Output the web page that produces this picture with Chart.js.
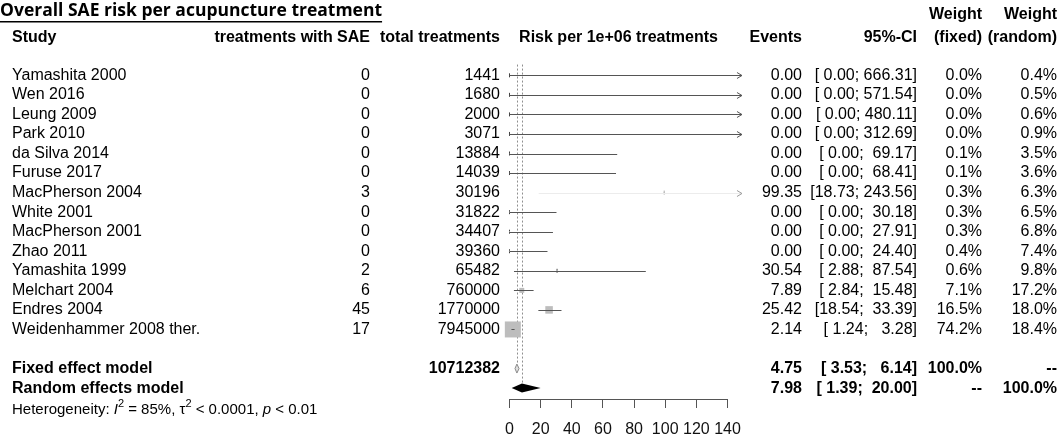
<!DOCTYPE html>
<html>
<head>
<meta charset="utf-8">
<script src="https://cdn.jsdelivr.net/npm/chart.js@4"></script>
<style>
  html, body { margin: 0; padding: 0; background: #fff; }
  #wrap { width: 1060px; height: 436px; position: relative; }
</style>
</head>
<body>
<div id="wrap"><canvas id="forest"></canvas></div>
<script>
// study data
const studies = [
  'Yamashita 2000', 'Wen 2016', 'Leung 2009', 'Park 2010', 'da Silva 2014',
  'Furuse 2017', 'MacPherson 2004', 'White 2001', 'MacPherson 2001', 'Zhao 2011',
  'Yamashita 1999', 'Melchart 2004', 'Endres 2004', 'Weidenhammer 2008 ther.'
];
const saeEvents = [0, 0, 0, 0, 0, 0, 3, 0, 0, 0, 2, 6, 45, 17];
const totalTreatments = [1441, 1680, 2000, 3071, 13884, 14039, 30196, 31822, 34407, 39360, 65482, 760000, 1770000, 7945000];
const risk = [0, 0, 0, 0, 0, 0, 99.35, 0, 0, 0, 30.54, 7.89, 25.42, 2.14];
const ciLower = [0, 0, 0, 0, 0, 0, 18.73, 0, 0, 0, 2.88, 2.84, 18.54, 1.24];
const ciUpper = [666.31, 571.54, 480.11, 312.69, 69.17, 68.41, 243.56, 30.18, 27.91, 24.40, 87.54, 15.48, 33.39, 3.28];
const weightFixed = [0.0, 0.0, 0.0, 0.0, 0.1, 0.1, 0.3, 0.3, 0.3, 0.4, 0.6, 7.1, 16.5, 74.2];
const weightRandom = [0.4, 0.5, 0.6, 0.9, 3.5, 3.6, 6.3, 6.5, 6.8, 7.4, 9.8, 17.2, 18.0, 18.4];

// pooled estimates
const modelLabels = ['Fixed effect model', 'Random effects model'];
const modelTotal = ['10712382', ''];
const modelRisk = [4.75, 7.98];
const modelLower = [3.53, 1.39];
const modelUpper = [6.14, 20.00];
const modelWeightFixed = ['100.0%', '--'];
const modelWeightRandom = ['--', '100.0%'];

const xTicks = [0, 20, 40, 60, 80, 100, 120, 140];

const FONT = '"Liberation Sans", Arial, sans-serif';
const X_LIMIT = 149.3;     // where clipped CIs end with an arrow
const MAX_SIDE = 16;       // square side for the largest weight
const maxWeight = Math.max(...weightFixed);
const modelRow = i => studies.length + 1 + i;

const fmtCI = (lo, hi) => '[' + lo.toFixed(2).padStart(5) + '; ' + hi.toFixed(2).padStart(6) + ']';

const forestPlugin = {
  id: 'forest',
  beforeDatasetsDraw(chart) {
    const { ctx, scales: { x, y } } = chart;
    ctx.save();
    ctx.strokeStyle = '#8f8f8f';
    ctx.lineWidth = 1;
    ctx.setLineDash([2, 2]);
    modelRisk.forEach((v, i) => {
      const px = Math.round(x.getPixelForValue(v)) + 0.5;
      ctx.beginPath();
      ctx.moveTo(px, y.getPixelForValue(-0.55));
      ctx.lineTo(px, y.getPixelForValue(modelRow(i)) - 5);
      ctx.stroke();
    });
    ctx.restore();
  },
  afterDatasetsDraw(chart) {
    const { ctx, scales: { x, y } } = chart;
    ctx.save();
    ctx.lineWidth = 1;
    studies.forEach((s, i) => {
      const py = Math.round(y.getPixelForValue(i)) + 0.5;
      const faint = s === 'MacPherson 2004';
      const x0 = x.getPixelForValue(ciLower[i]);
      const clipped = ciUpper[i] > X_LIMIT;
      const x1 = x.getPixelForValue(clipped ? X_LIMIT : ciUpper[i]);
      ctx.strokeStyle = faint ? '#ececec' : '#555';
      ctx.beginPath();
      ctx.moveTo(x0, py);
      ctx.lineTo(x1, py);
      ctx.stroke();
      if (clipped) {
        ctx.strokeStyle = faint ? '#999' : '#555';
        ctx.beginPath();
        ctx.moveTo(x1 - 5, py - 3);
        ctx.lineTo(x1, py);
        ctx.lineTo(x1 - 5, py + 3);
        ctx.stroke();
      }
    });
    // diamonds
    modelRisk.forEach((v, i) => {
      const py = y.getPixelForValue(modelRow(i));
      ctx.beginPath();
      ctx.moveTo(x.getPixelForValue(modelLower[i]), py);
      ctx.lineTo(x.getPixelForValue(v), py - 4.5);
      ctx.lineTo(x.getPixelForValue(modelUpper[i]), py);
      ctx.lineTo(x.getPixelForValue(v), py + 4.5);
      ctx.closePath();
      if (i === 0) {
        ctx.fillStyle = '#e0e0e0';
        ctx.strokeStyle = '#8a8a8a';
        ctx.fill();
        ctx.stroke();
      } else {
        ctx.fillStyle = '#000';
        ctx.fill();
      }
    });
    ctx.restore();
  },
  afterDraw(chart) {
    const { ctx, scales: { x, y } } = chart;
    const rowY = r => y.getPixelForValue(r);
    ctx.save();
    ctx.fillStyle = '#000';
    ctx.textBaseline = 'middle';

    // title
    ctx.font = 'bold 17.5px "Open Sans", sans-serif';
    ctx.textAlign = 'left';
    const title = 'Overall SAE risk per acupuncture treatment';
    ctx.fillText(title, 0, 11);
    const tw = ctx.measureText(title).width;
    ctx.fillRect(0, 21, tw, 1.5);

    const text = (t, px, py, align) => { ctx.textAlign = align; ctx.fillText(t, px, py); };

    // headers
    ctx.font = 'bold 16px ' + FONT;
    const hy = 38;
    text('Study', 12, hy, 'left');
    text('treatments with SAE', 370, hy, 'right');
    text('total treatments', 500, hy, 'right');
    text('Risk per 1e+06 treatments', (x.left + x.right) / 2, hy, 'center');
    text('Events', 802, hy, 'right');
    text('95%-CI', 917, hy, 'right');
    text('Weight', 982, 15, 'right');
    text('(fixed)', 982, hy, 'right');
    text('Weight', 1057, 15, 'right');
    text('(random)', 1057, hy, 'right');

    // study rows
    ctx.font = '16px ' + FONT;
    studies.forEach((s, i) => {
      const py = rowY(i);
      text(s, 12, py, 'left');
      text(String(saeEvents[i]), 370, py, 'right');
      text(String(totalTreatments[i]), 500, py, 'right');
      text(risk[i].toFixed(2), 802, py, 'right');
      text(fmtCI(ciLower[i], ciUpper[i]), 917, py, 'right');
      text(weightFixed[i].toFixed(1) + '%', 982, py, 'right');
      text(weightRandom[i].toFixed(1) + '%', 1057, py, 'right');
    });

    // pooled rows
    ctx.font = 'bold 16px ' + FONT;
    modelLabels.forEach((m, i) => {
      const py = rowY(modelRow(i));
      text(m, 12, py, 'left');
      text(modelTotal[i], 500, py, 'right');
      text(modelRisk[i].toFixed(2), 802, py, 'right');
      text(fmtCI(modelLower[i], modelUpper[i]), 917, py, 'right');
      text(modelWeightFixed[i], 982, py, 'right');
      text(modelWeightRandom[i], 1057, py, 'right');
    });

    // heterogeneity line
    const hetY = rowY(modelRow(2)) + 2;
    let cx = 12;
    const seg = (t, font, dy) => {
      ctx.font = font;
      ctx.textAlign = 'left';
      ctx.fillText(t, cx, hetY + (dy || 0));
      cx += ctx.measureText(t).width;
    };
    const base = '15px ' + FONT, ital = 'italic 15px ' + FONT, sup = '11px ' + FONT;
    seg('Heterogeneity: ', base);
    seg('I', ital);
    seg('2', sup, -6);
    seg(' = 85%, ', base);
    seg('\u03c4', base);
    seg('2', sup, -6);
    seg(' < 0.0001, ', base);
    seg('p', ital);
    seg(' < 0.01', base);
    ctx.restore();
  }
};

const squareData = studies.map((s, i) => ({ x: risk[i], y: i }));

new Chart(document.getElementById('forest'), {
  type: 'scatter',
  data: {
    datasets: [
      {
        label: 'weight',
        data: squareData,
        pointStyle: 'rect',
        pointRadius: weightFixed.map(w => MAX_SIDE * Math.sqrt(w / maxWeight) / Math.SQRT2),
        backgroundColor: '#bdbdbd',
        borderWidth: 0,
        clip: false
      },
      {
        label: 'estimate',
        data: squareData,
        pointStyle: 'line',
        rotation: 90,
        pointRadius: 2,
        borderWidth: 1,
        borderColor: studies.map(s => s === 'MacPherson 2004' ? '#aaa' : '#444'),
        clip: false
      }
    ]
  },
  options: {
    responsive: true,
    maintainAspectRatio: false,
    animation: false,
    events: [],
    layout: { padding: { left: 509.5, right: 332.5, top: 59.66, bottom: -16 } },
    plugins: { legend: { display: false }, tooltip: { enabled: false } },
    scales: {
      x: {
        type: 'linear',
        min: 0,
        max: 140,
        afterBuildTicks: axis => { axis.ticks = xTicks.map(v => ({ value: v })); },
        grid: { drawOnChartArea: false, tickLength: 9, tickColor: '#555' },
        border: { color: '#555' },
        ticks: {
          autoSkip: false,
          maxRotation: 0,
          padding: 15.6,
          color: '#111',
          font: { family: FONT, size: 16, lineHeight: 0.8 }
        }
      },
      y: {
        type: 'linear',
        reverse: true,
        min: -0.8,
        max: 16.557,
        display: false
      }
    }
  },
  plugins: [forestPlugin]
});
</script>
</body>
</html>
